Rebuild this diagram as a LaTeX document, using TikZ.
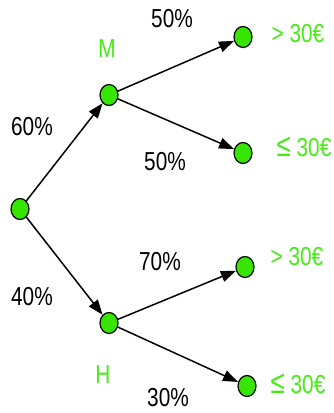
\documentclass[tikz,border=0pt]{standalone}
\usepackage{fontspec}
\setmainfont{Liberation Sans}
\usetikzlibrary{arrows.meta,shapes.geometric}
\definecolor{leafgreen}{RGB}{55,230,0}
\definecolor{labelgreen}{RGB}{70,235,20}
\newcommand{\bigleq}{\scalebox{1.25}{≤}}
\tikzset{
  dot/.style={ellipse, draw=black, line width=1.2pt, fill=leafgreen,
    minimum width=18pt, minimum height=21pt, inner sep=0pt},
  txt/.style={font=\fontsize{26}{26}\selectfont, xscale=0.8, inner sep=0pt},
  prob/.style={txt, text=black},
  outcome/.style={txt, text=labelgreen},
  branch/.style={line width=1.5pt, -{Triangle[length=15pt,width=11pt]}, shorten <=-1pt}
}
\begin{document}
\begin{tikzpicture}[x=1pt,y=-1pt]
  \useasboundingbox (0,0) rectangle (333,413);
  % tree nodes
  \node[dot] (root) at (20,209) {};
  \node[dot] (m) at (109,95) {};
  \node[dot] (h) at (109,323) {};
  \node[dot] (m1) at (243,37) {};
  \node[dot] (m2) at (243,153) {};
  \node[dot] (h1) at (245,267) {};
  \node[dot] (h2) at (247,386) {};
  % branches
  \draw[branch] (root) -- (m);
  \draw[branch] (root) -- (h);
  \draw[branch] (m) -- (m1);
  \draw[branch] (m) -- (m2);
  \draw[branch] (h) -- (h1);
  \draw[branch] (h) -- (h2);
  % probabilities
  \node[prob] (p60) at (32,127) {60\%};
  \node[prob] (p40) at (32,297) {40\%};
  \node[prob] (pm1) at (172,19) {50\%};
  \node[prob] (pm2) at (165,162) {50\%};
  \node[prob] (ph1) at (160,262) {70\%};
  \node[prob] (ph2) at (168,398) {30\%};
  % outcome labels
  \node[outcome] (lm) at (107,49) {M};
  \node[outcome] (lh) at (103,375) {H};
  \node[outcome] (om1) at (298,34) {> 30€};
  \node[outcome] (om2) at (304,147) {\bigleq\ 30€};
  \node[outcome] (oh1) at (297,257) {> 30€};
  \node[outcome] (oh2) at (298,384) {\bigleq\ 30€};
\end{tikzpicture}
\end{document}
